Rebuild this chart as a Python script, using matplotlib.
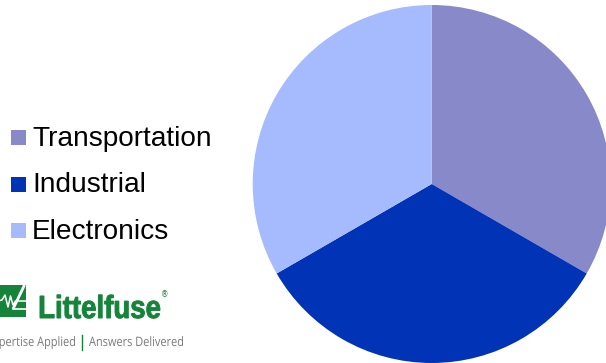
import matplotlib
matplotlib.use("Agg")
import matplotlib.pyplot as plt
from matplotlib.patches import Rectangle, PathPatch
from matplotlib.textpath import TextPath
from matplotlib.font_manager import FontProperties
from matplotlib.transforms import Affine2D

categories = ["Transportation", "Industrial", "Electronics"]
values = [1, 1, 1]
colors = ["#8889C9", "#0033B5", "#A5BBFD"]

W, H = 606, 363
fig = plt.figure(figsize=(W / 100, H / 100), dpi=100)
ax = fig.add_axes([0, 0, 1, 1])

def py(y):
    # pixel-from-top to data y
    return H - y

ax.pie(values, colors=colors, startangle=90, counterclock=False,
       center=(431.7, py(184)), radius=179,
       wedgeprops=dict(linewidth=0, antialiased=True))

# legend
baselines = [146, 192.5, 239]
for cat, col, b in zip(categories, colors, baselines):
    ax.add_patch(Rectangle((11, py(b - 1)), 15, 15, facecolor=col, edgecolor="none"))
    ax.text(32, py(b), cat, fontsize=20.2, family="Liberation Sans",
            color="black", va="baseline", ha="left")


def fitted_text(s, prop, x0, x1, baseline, em, color, sx=None, lw=0.0):
    """Draw text as a path: em = font size in px vertically, horizontally
    squeezed so that the text spans x0..x1 (or uses a given x scale)."""
    tp = TextPath((0, 0), s, size=1, prop=prop)
    ext = tp.get_extents()
    w = ext.x1 - ext.x0
    if sx is None:
        sx = (x1 - x0) / w
    tr = Affine2D().translate(-ext.x0, 0).scale(sx, em).translate(x0, py(baseline))
    ax.add_patch(PathPatch(tr.transform_path(tp), facecolor=color,
                           edgecolor=color if lw else "none", lw=lw))
    return sx

# Littelfuse logo
green = "#16833A"
ax.add_patch(Rectangle((-2, py(317)), 28, 32, facecolor=green, edgecolor="none", zorder=3))
ax.plot([24.5, 13], [py(285), py(309)], color="white", lw=2.0, solid_capstyle="butt", zorder=4)
zx = [-2, 2, 5, 8, 10.5, 13, 15.5, 26]
zy = [301, 300, 295, 307, 296, 305, 301, 301]
ax.plot(zx, [py(v) for v in zy], color="white", lw=1.1, zorder=4)
ax.plot([13, 26], [py(308.5), py(308.5)], color="white", lw=1.2, zorder=4)

bold = FontProperties(family="Liberation Sans", weight="bold")
fitted_text("Littelfuse", bold, 40, 160, 318, 32, green, lw=0.7)
ax.text(160.5, py(297), "®", fontsize=5.5, family="DejaVu Sans", color=green,
        va="baseline", ha="left")

gray = "#7A7A7A"
reg = FontProperties(family="Open Sans")
sx = fitted_text("Answers Delivered", reg, 89, 183, 346, 13, gray)
tp = TextPath((0, 0), "Expertise Applied", size=1, prop=reg)
ext = tp.get_extents()
wpx = (ext.x1 - ext.x0) * sx
fitted_text("Expertise Applied", reg, 75 - wpx, 75, 346, 13, gray, sx=sx)
ax.plot([82, 82], [py(335), py(350)], color=green, lw=1.0)

ax.set_xlim(0, W)
ax.set_ylim(0, H)
ax.set_aspect("auto")
ax.axis("off")
fig.savefig("out.png", dpi=100)
